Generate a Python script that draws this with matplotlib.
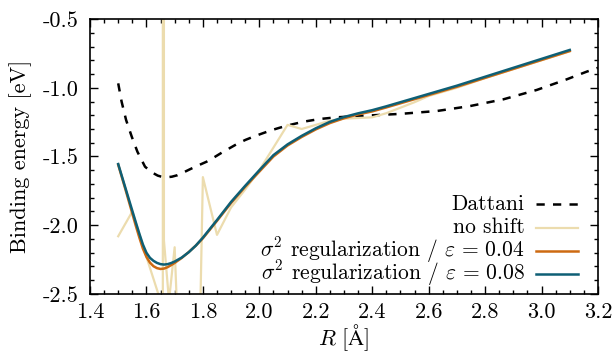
import matplotlib
matplotlib.use('Agg')
from matplotlib import pyplot as plt
from matplotlib.lines import Line2D
from matplotlib.ticker import MultipleLocator, FormatStrFormatter
import numpy as np

# Dattani reference curve
r_dattani = [1.50, 1.512, 1.528, 1.548, 1.568, 1.595, 1.61, 1.625, 1.64, 1.655,
             1.672, 1.69, 1.71, 1.73, 1.754, 1.78, 1.813, 1.84, 1.867, 1.89,
             1.92, 1.95, 1.979, 2.00, 2.038, 2.07, 2.097, 2.156, 2.215, 2.274,
             2.357, 2.50, 2.63, 2.747, 2.865, 2.983, 3.089, 3.16, 3.20]
e_dattani = [-0.968, -1.101, -1.235, -1.356, -1.465, -1.574, -1.60, -1.622, -1.639, -1.648,
             -1.651, -1.647, -1.636, -1.617, -1.593, -1.568, -1.538, -1.506, -1.472, -1.445,
             -1.41, -1.38, -1.356, -1.34, -1.312, -1.292, -1.276, -1.247, -1.227, -1.215,
             -1.205, -1.19, -1.169, -1.133, -1.084, -1.016, -0.939, -0.883, -0.855]

# no shift
r_noshift = [1.50, 1.55, 1.60, 1.65, 1.658, 1.66, 1.662, 1.68, 1.70, 1.71,
             1.75, 1.79, 1.80, 1.85, 1.90, 1.95, 2.00, 2.05, 2.10, 2.15,
             2.20, 2.25, 2.30, 2.35, 2.40, 2.45, 2.50, 2.55, 2.60, 2.70,
             2.80, 2.90, 3.00, 3.10]
e_noshift = [-2.08, -1.90, -2.23, -2.55, -6.0, 60.0, -2.11, -2.55, -2.16, -2.70,
             -3.20, -2.70, -1.65, -2.07, -1.87, -1.74, -1.60, -1.435, -1.27, -1.30,
             -1.27, -1.24, -1.225, -1.22, -1.215, -1.185, -1.145, -1.105, -1.06, -1.00,
             -0.93, -0.865, -0.80, -0.735]

# sigma^2 regularization
r_reg = [1.50, 1.525, 1.55, 1.5625, 1.575, 1.5875, 1.60, 1.6125, 1.625, 1.6375,
         1.65, 1.6625, 1.675, 1.6875, 1.70, 1.725, 1.75, 1.775, 1.80, 1.85,
         1.90, 1.95, 2.00, 2.05, 2.10, 2.15, 2.20, 2.25, 2.30, 2.35,
         2.40, 2.45, 2.50, 2.60, 2.70, 2.80, 2.90, 3.00, 3.10]
e_reg004 = [-1.56, -1.735, -1.915, -2.005, -2.09, -2.17, -2.23, -2.272, -2.298, -2.312,
            -2.318, -2.315, -2.305, -2.29, -2.274, -2.238, -2.195, -2.148, -2.095, -1.968,
            -1.838, -1.72, -1.61, -1.50, -1.42, -1.358, -1.303, -1.257, -1.222, -1.194,
            -1.172, -1.143, -1.113, -1.053, -0.993, -0.928, -0.863, -0.798, -0.733]
e_reg008 = [-1.555, -1.725, -1.895, -1.98, -2.062, -2.14, -2.20, -2.237, -2.259, -2.274,
            -2.283, -2.286, -2.283, -2.275, -2.264, -2.235, -2.196, -2.148, -2.09, -1.962,
            -1.83, -1.713, -1.60, -1.49, -1.412, -1.35, -1.295, -1.248, -1.213, -1.186,
            -1.163, -1.135, -1.105, -1.045, -0.985, -0.92, -0.855, -0.79, -0.725]

plt.rcParams['font.family'] = ['cmr10', 'DejaVu Serif']
plt.rcParams['mathtext.fontset'] = 'cm'
plt.rcParams['axes.unicode_minus'] = False
plt.rcParams['font.size'] = 16

fig = plt.figure(figsize=(6.13, 3.58), dpi=100, facecolor='w')
ax = fig.add_axes([0.1468, 0.1788, 0.8287, 0.7681])

lines = []
lines += ax.plot(r_dattani, e_dattani, color='k', linewidth=1.8, linestyle=(0, (3.3, 3.3)),
                 label='Dattani')
lines += ax.plot(r_noshift, e_noshift, color='#ecdcae', linewidth=1.6, label='no shift')
lines += ax.plot(r_reg, e_reg004, color='#cd6a12', linewidth=1.8,
                 label=r'$\sigma^2$ regularization / $\varepsilon\,=\,0.04$')
lines += ax.plot(r_reg, e_reg008, color='#0e5f75', linewidth=1.8,
                 label=r'$\sigma^2$ regularization / $\varepsilon\,=\,0.08$')

ax.set_xlim(1.4, 3.2)
ax.set_ylim(-2.5, -0.5)
ax.xaxis.set_major_locator(MultipleLocator(0.2))
ax.xaxis.set_minor_locator(MultipleLocator(0.05))
ax.yaxis.set_major_locator(MultipleLocator(0.5))
ax.yaxis.set_minor_locator(MultipleLocator(0.1))
ax.xaxis.set_major_formatter(FormatStrFormatter('%.1f'))
ax.yaxis.set_major_formatter(FormatStrFormatter('%.1f'))
ax.tick_params(which='both', direction='in', top=True, right=True, width=1.0)
ax.tick_params(which='major', length=6)
ax.tick_params(axis='x', which='major', pad=6)
ax.tick_params(axis='y', which='major', pad=8)
ax.tick_params(which='minor', length=3)
for s in ax.spines.values():
    s.set_linewidth(1.2)

ax.set_xlabel(r'$R\ [\mathrm{\AA}]$', labelpad=0)
ax.set_ylabel('Binding energy [eV]', labelpad=8)

# key, gnuplot style: label right-aligned, sample to its right, fixed row step
for i, line in enumerate(lines):
    yb = 0.306 - i * 0.085
    ax.text(0.856, yb, line.get_label(), transform=ax.transAxes,
            ha='right', va='baseline', fontsize=15.5)
    h = Line2D([0.878, 0.961], [yb + 0.02, yb + 0.02])
    h.update_from(line)
    h.set_transform(ax.transAxes)
    ax.add_artist(h)

fig.savefig('out.png', dpi=100)
